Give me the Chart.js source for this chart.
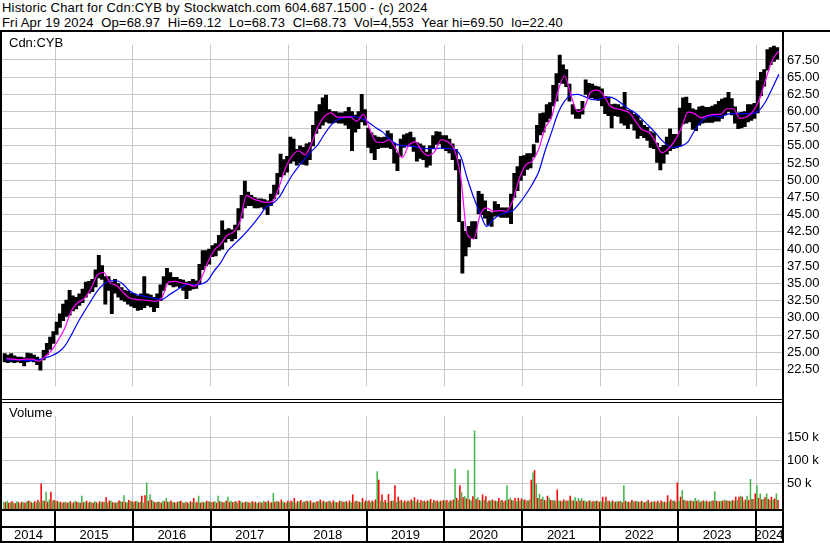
<!DOCTYPE html>
<html>
<head>
<meta charset="utf-8">
<title>Historic Chart for Cdn:CYB</title>
<script src="https://cdn.jsdelivr.net/npm/chart.js@4.4.1/dist/chart.umd.min.js"></script>
<style>
  body { margin: 0; background: #fff; }
  #page { position: relative; width: 830px; height: 543px; overflow: hidden;
          font-family: Arial, "Liberation Sans", sans-serif; font-size: 13px; color: #000; }
  .txt { position: absolute; white-space: pre; line-height: 15px; }
  .head { letter-spacing: 0.18px; }
  .rule { position: absolute; background: #000; }
  canvas { position: absolute; left: 0; }
</style>
</head>
<body>
<div id="page">
  <div class="txt head" style="left:2px;top:0">Historic Chart for Cdn:CYB by Stockwatch.com 604.687.1500 - (c) 2024</div>
  <div class="txt head" style="left:2px;top:15px">Fri Apr 19 2024  Op=68.97  Hi=69.12  Lo=68.73  Cl=68.73  Vol=4,553  Year hi=69.50  lo=22.40</div>
  <canvas id="priceChart" width="830" height="367" style="top:32px"></canvas>
  <canvas id="volumeChart" width="830" height="140" style="top:403px"></canvas>
  <div class="txt" style="left:9px;top:35px">Cdn:CYB</div>
  <div class="txt" style="left:9px;top:405px">Volume</div>
  <div class="rule" style="left:0;top:30px;width:830px;height:2px"></div>
  <div class="rule" style="left:0;top:30px;width:2px;height:513px"></div>
  <div class="rule" style="left:782px;top:30px;width:2px;height:513px"></div>
  <div class="rule" style="left:0;top:399px;width:782px;height:1px"></div>
  <div class="rule" style="left:0;top:402px;width:782px;height:1px"></div>
</div>
<script>
// half-month bars start with the first half of May 2014
const startYear = 2014;
const startHalf = 8;

const yearLines = [2015, 2016, 2017, 2018, 2019, 2020, 2021, 2022, 2023, 2024];
const yearLabels = ['2014', '2015', '2016', '2017', '2018', '2019', '2020', '2021', '2022', '2023', '2024'];
const priceTicks = [22.5, 25, 27.5, 30, 32.5, 35, 37.5, 40, 42.5, 45, 47.5, 50, 52.5, 55, 57.5, 60, 62.5, 65, 67.5];
const volumeTicks = [50, 100, 150];

// half-month low / high
const priceLow = [
  23.6,23.5,23.6,23.5,23.6,23.5,23.0,23.6,23.7,23.6,23.2,22.4,23.9,24.6,25.4,26.3,
  27.6,28.6,29.6,30.2,30.4,31.0,31.3,31.8,32.2,33.0,33.6,33.8,34.5,35.8,35.6,32.0,34.0,30.6,33.6,33.0,32.6,32.4,32.0,31.7,
  31.5,31.1,31.2,31.5,31.8,31.6,30.9,31.5,32.5,34.0,35.0,34.8,34.5,34.6,34.4,34.0,32.8,34.0,34.2,34.3,35.0,37.0,37.6,37.8,
  38.9,39.0,39.8,40.0,41.0,41.5,41.2,41.5,42.8,44.5,46.0,46.3,46.3,46.0,46.0,46.1,45.8,45.0,46.3,47.3,48.0,50.5,50.8,51.2,
  52.5,52.8,52.2,52.5,52.3,52.2,53.0,55.0,56.8,57.5,58.0,58.5,58.3,58.3,58.4,58.3,58.3,58.0,57.5,54.3,57.0,57.5,58.5,58.0,
  54.8,54.0,53.0,54.6,54.8,54.8,54.8,54.6,52.5,51.4,53.5,54.8,55.0,55.0,54.2,52.8,53.2,53.0,51.9,52.2,54.6,55.2,55.3,54.6,
  54.3,54.0,53.0,51.5,44.0,36.5,39.0,40.3,41.5,41.5,45.1,45.0,44.5,43.5,43.3,44.8,44.8,44.6,44.6,44.6,43.7,47.5,48.5,50.0,
  50.7,51.6,51.8,53.4,55.5,56.6,57.0,58.5,59.0,60.8,61.5,64.2,64.1,63.6,61.5,59.6,59.0,59.0,59.6,62.5,62.0,62.0,61.8,61.6,
  60.8,59.7,59.4,57.6,59.4,59.3,58.3,58.0,57.5,58.2,57.3,56.1,56.5,56.2,55.8,54.8,54.6,52.6,51.5,52.5,53.8,54.3,54.6,54.7,
  55.0,58.2,58.3,58.5,57.4,57.2,58.0,58.3,58.4,58.4,58.4,58.6,58.6,59.0,59.5,60.0,59.5,58.3,57.5,57.6,57.8,58.5,58.7,59.0,
  59.8,62.3,63.7,66.0,66.8,67.3,67.6
];
const priceHigh = [
  24.8,24.6,24.8,24.5,24.3,24.3,24.2,24.9,24.8,24.6,24.3,24.0,25.3,26.3,27.2,28.0,
  29.4,30.6,32.0,32.6,34.0,33.2,33.0,33.5,34.2,35.2,35.3,35.6,37.0,39.1,37.6,36.0,36.0,35.2,35.6,35.0,34.4,34.0,33.9,33.6,
  33.5,33.2,33.5,36.0,33.5,33.3,33.0,33.5,34.8,36.0,37.2,36.6,35.9,35.9,35.6,35.5,35.2,35.3,35.6,35.4,37.8,39.8,39.8,40.0,
  40.5,40.8,42.0,44.1,42.8,43.0,42.8,43.5,45.9,47.8,49.9,48.3,47.8,47.5,47.3,47.3,47.2,47.0,48.0,49.3,51.0,53.8,53.0,53.5,
  56.3,56.0,54.5,55.0,54.8,55.3,55.5,58.0,60.0,61.0,62.0,62.4,60.3,60.0,60.0,59.8,59.8,60.0,60.6,60.0,59.5,60.0,62.5,60.3,
  57.6,56.9,56.5,56.3,56.2,56.3,57.2,56.8,55.4,54.0,56.0,56.6,56.8,57.0,56.2,55.5,55.3,55.0,54.1,55.0,56.5,57.1,57.0,56.5,
  56.5,56.0,55.3,54.5,53.0,44.0,42.6,43.3,44.0,44.0,48.4,48.0,47.0,45.5,45.3,46.9,46.5,46.0,46.0,46.0,48.0,51.0,52.0,53.5,
  53.6,53.9,53.9,55.2,58.0,59.7,59.8,61.0,61.3,63.8,65.5,68.2,66.8,66.1,64.0,61.0,60.3,60.3,61.5,64.6,64.1,64.0,63.7,63.6,
  63.3,62.2,62.1,61.0,61.1,61.0,60.7,62.8,60.2,60.1,59.6,59.4,58.7,58.0,57.7,57.1,56.9,55.4,54.8,55.1,56.3,57.5,56.7,56.7,
  60.5,62.0,62.1,61.2,60.4,60.2,60.7,60.8,60.6,60.6,60.8,61.0,61.5,61.8,62.0,62.8,61.9,60.7,59.8,59.9,60.0,61.0,61.0,61.2,
  64.5,65.7,66.1,69.0,69.3,69.5,69.3
];

// monthly moving averages, May 2014 to Apr 2024
const maFast = [
  24.1,24.0,23.9,24.0,24.0,23.7,24.4,25.3,
  26.8,28.5,31.0,32.2,32.8,34.2,36.2,36.6,35.1,34.7,33.7,32.9,
  32.7,32.6,32.5,32.4,33.0,35.2,35.3,35.1,34.9,34.6,35.7,38.0,
  39.8,40.7,42.0,42.5,44.0,47.8,47.3,47.0,46.8,46.9,49.0,51.8,
  53.5,54.3,53.7,55.3,57.8,59.3,59.8,59.2,59.2,59.2,58.6,59.6,
  57.4,55.6,55.5,55.9,54.6,53.3,55.1,55.6,54.3,53.6,54.2,55.9,
  55.6,54.5,50.5,42.2,41.5,45.0,46.0,45.5,45.6,45.5,47.0,50.2,
  52.2,52.8,54.5,57.6,59.2,63.0,65.2,62.3,60.0,60.5,62.8,63.1,
  62.4,60.8,60.4,60.2,59.8,58.5,57.3,57.0,55.6,54.0,54.6,55.8,
  57.6,59.9,59.7,59.1,59.4,59.6,59.6,60.4,60.4,59.0,59.2,60.0,
  61.7,64.7,67.5,68.8
];
const maSlow = [
  23.9,23.9,23.9,23.8,23.8,23.9,24.2,24.5,
  25.0,25.9,27.5,29.3,30.9,32.4,33.9,34.9,35.4,35.4,34.9,33.9,
  33.4,33.2,33.0,32.8,32.7,33.3,33.9,34.5,34.9,34.8,34.9,35.4,
  36.8,38.0,39.6,40.6,41.5,42.5,43.6,44.8,46.1,46.6,47.5,49.1,
  50.7,52.0,53.1,54.2,55.2,56.7,58.0,58.8,59.1,59.3,59.2,58.9,
  58.3,57.6,57.0,56.0,55.3,55.0,55.0,54.9,54.7,54.6,54.6,54.7,
  54.6,54.5,53.5,50.3,47.5,45.2,43.3,44.3,45.0,45.3,45.6,46.6,
  47.9,49.4,51.2,54.3,57.0,59.8,61.5,62.4,62.5,62.2,61.8,61.7,
  62.0,62.1,61.7,61.0,60.3,59.7,58.8,57.9,56.9,55.8,55.0,54.8,
  55.0,55.6,57.2,58.5,59.2,59.4,59.2,59.6,59.7,59.7,59.7,59.7,
  60.2,61.5,63.4,65.4
];

// half-month volume in thousands, split into up and down days
const volUp = [
  10,12,9,8,11,7,9,10,12,8,9,10,13,32,15,12,
  11,9,8,10,9,7,12,9,23,10,8,9,11,7,9,10,8,12,9,10,11,24,9,12,
  9,12,10,8,52,26,11,9,10,12,18,10,9,8,11,9,10,7,9,8,23,10,9,11,
  9,11,23,10,9,21,12,10,8,11,9,10,8,9,7,10,12,9,8,29,11,9,10,8,
  9,10,8,11,9,12,10,8,9,11,10,9,12,8,10,9,11,10,8,9,10,11,9,10,
  11,9,10,77,12,10,9,11,13,10,12,9,10,11,12,10,9,11,10,12,9,11,10,12,
  12,10,13,82,14,31,22,79,13,166,20,12,14,10,12,13,11,12,10,46,19,12,11,13,
  14,12,15,74,50,27,21,13,19,14,12,13,11,12,13,14,20,18,18,13,12,10,11,12,
  11,10,12,9,10,11,12,46,10,9,11,12,10,9,11,8,10,9,8,10,9,11,12,10,
  12,35,13,11,12,18,15,12,11,10,12,33,11,12,15,13,11,12,14,23,12,23,60,16,
  46,28,16,28,14,15,28
];
const volDown = [
  9,8,11,7,9,10,8,12,9,11,14,50,12,10,32,14,
  12,10,9,8,11,9,10,8,9,12,10,8,9,11,10,20,12,9,8,13,10,9,14,11,
  11,9,23,24,12,14,9,10,8,11,10,13,9,10,12,8,9,11,18,10,8,9,12,10,
  10,8,11,9,12,10,9,11,13,8,10,9,11,10,9,8,10,12,9,10,11,15,9,12,
  12,18,11,14,10,12,13,9,11,15,12,10,11,13,9,12,10,11,13,26,12,10,18,13,
  13,12,15,58,26,14,27,12,46,21,14,13,12,15,20,15,14,12,13,16,14,13,12,14,
  14,13,15,18,46,20,17,15,22,16,14,26,22,13,15,12,18,14,13,15,14,18,18,17,
  15,13,58,79,18,16,14,23,14,13,37,12,15,13,23,12,11,13,12,10,13,11,12,10,
  21,21,12,13,10,11,9,12,10,14,11,10,12,9,14,10,11,12,13,10,24,15,12,52,
  21,14,12,13,11,12,10,13,12,11,13,12,11,12,13,12,14,21,21,21,15,14,16,28,
  18,15,20,16,21,17,14
];

const FONT = 'Arial, "Liberation Sans", sans-serif';
const xMin = 2014.3196;
const xMax = 2024.3326;

function halfMonthX(i) {
  const h = startHalf + i;
  return startYear + Math.floor(h / 24) + ((h % 24) + 0.5) / 24;
}

function monthX(k) {
  const m = startHalf / 2 + k;
  return startYear + Math.floor(m / 12) + ((m % 12) + 0.5) / 12;
}

function timeAxis() {
  return {
    type: 'linear',
    min: xMin,
    max: xMax,
    offset: false,
    grid: { color: '#c8c8c8', drawTicks: false, offset: false },
    border: { display: false },
    ticks: { display: false },
    afterBuildTicks: scale => { scale.ticks = yearLines.map(v => ({ value: v })); },
    afterFit: scale => { scale.height = 0; }
  };
}

function valueAxis(min, max, ticks, format) {
  return {
    position: 'right',
    min: min,
    max: max,
    grid: { color: '#c8c8c8', drawTicks: false },
    border: { display: false },
    ticks: { padding: 5, color: '#000', font: { family: FONT, size: 13 }, callback: format },
    afterBuildTicks: scale => { scale.ticks = ticks.map(v => ({ value: v })); },
    afterFit: scale => { scale.width = 48; }
  };
}

const yearBand = {
  id: 'yearBand',
  afterDraw(chart) {
    const { ctx, chartArea } = chart;
    const x = chart.scales.x;
    const top = chartArea.bottom;
    ctx.save();
    ctx.fillStyle = '#000';
    ctx.fillRect(0, top, 784, 2);
    ctx.fillRect(0, top + 17, 784, 2);
    ctx.fillRect(0, top + 32, 784, 2);
    yearLines.forEach(v => {
      const px = Math.round(x.getPixelForValue(v));
      ctx.fillRect(px - 1, top, 2, 34);
    });
    ctx.font = '13px ' + FONT;
    ctx.textAlign = 'center';
    ctx.textBaseline = 'middle';
    yearLabels.forEach(label => {
      const a = Math.max(chartArea.left, x.getPixelForValue(+label));
      const b = Math.min(chartArea.right, x.getPixelForValue(+label + 1));
      ctx.fillText(label, (a + b) / 2, top + 26);
    });
    ctx.restore();
  }
};

new Chart(document.getElementById('priceChart'), {
  type: 'bar',
  data: {
    datasets: [
      {
        type: 'line',
        data: maFast.map((v, k) => ({ x: monthX(k), y: v })),
        borderColor: '#ff00ff',
        borderWidth: 1.2,
        pointRadius: 0,
        cubicInterpolationMode: 'monotone',
        order: 1
      },
      {
        type: 'line',
        data: maSlow.map((v, k) => ({ x: monthX(k), y: v })),
        borderColor: '#0000ff',
        borderWidth: 1.2,
        pointRadius: 0,
        cubicInterpolationMode: 'monotone',
        order: 2
      },
      {
        type: 'bar',
        data: priceLow.map((lo, i) => ({ x: halfMonthX(i), y: [lo, priceHigh[i]] })),
        backgroundColor: '#000',
        barPercentage: 1,
        categoryPercentage: 1,
        order: 3
      }
    ]
  },
  options: {
    responsive: false,
    animation: false,
    layout: { padding: { left: 2 } },
    plugins: { legend: { display: false }, tooltip: { enabled: false } },
    scales: {
      x: timeAxis(),
      y: valueAxis(20.07, 69.7, priceTicks, v => v.toFixed(2))
    }
  }
});

new Chart(document.getElementById('volumeChart'), {
  type: 'bar',
  data: {
    datasets: [
      {
        data: volUp.map((v, i) => ({ x: halfMonthX(i), y: v })),
        backgroundColor: '#44b548',
        base: -5.8,
        barPercentage: 1,
        categoryPercentage: 0.95
      },
      {
        data: volDown.map((v, i) => ({ x: halfMonthX(i), y: v })),
        backgroundColor: '#ff0000',
        base: -5.8,
        barPercentage: 1,
        categoryPercentage: 0.95
      }
    ]
  },
  options: {
    responsive: false,
    animation: false,
    layout: { padding: { left: 2, bottom: 34 } },
    plugins: { legend: { display: false }, tooltip: { enabled: false } },
    scales: {
      x: timeAxis(),
      y: valueAxis(-5.8, 198, volumeTicks, v => v + ' k')
    }
  },
  plugins: [yearBand]
});
</script>
</body>
</html>
